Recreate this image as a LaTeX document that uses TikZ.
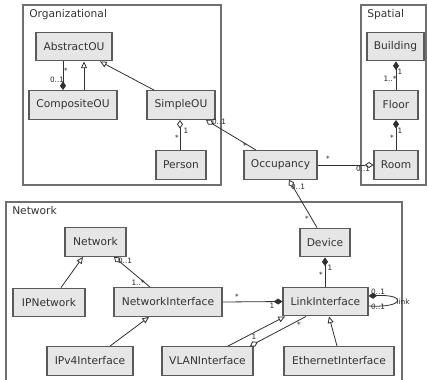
\documentclass[tikz,border=0pt]{standalone}
\usepackage{fontspec}
\setmainfont{DejaVu Sans}
\usetikzlibrary{arrows.meta}

\definecolor{boxfill}{HTML}{E6E6E6}
\definecolor{boxline}{HTML}{5A5A5A}
\definecolor{pkgline}{HTML}{707070}
\definecolor{connline}{HTML}{303030}

\begin{document}
\begin{tikzpicture}[x=0.75pt, y=-0.75pt]
\tikzset{ >=latex,
  cls/.style={draw=boxline, fill=boxfill, line width=0.9pt, inner sep=0pt,
              minimum height=21.5pt, font=\fontsize{8}{9}\selectfont, text=black!80},
  pkg/.style={draw=pkgline, line width=0.9pt},
  pkgname/.style={anchor=west, inner sep=0pt, font=\fontsize{8}{9}\selectfont, text=black!80},
  mult/.style={inner sep=0pt, font=\fontsize{5.5}{6}\selectfont, text=black!85},
  assoc/.style={draw=connline, line width=0.6pt},
  gen/.style={assoc, -{Triangle[open, length=5pt, width=4.5pt]}},
  agg/.style={assoc, {Diamond[open, length=6.5pt, width=4.5pt]}-},
  comp/.style={assoc, {Diamond[length=6.5pt, width=4.5pt]}-},
}

\clip (0,0) rectangle (427,379);

% packages
\draw [pkg] (23,5)  rectangle (221,185);
\draw [pkg] (361,5) rectangle (426,185);
\draw [pkg] (6,202) rectangle (402,395);

\node [pkgname] (orgName) at (29,15)  {Organizational};
\node [pkgname] (spaName) at (367,15) {Spatial};
\node [pkgname] (netName) at (12,211) {Network};

% classes
\node [cls, minimum width=57pt]   (AbstractOU)  at (74,46.5)  {AbstractOU};
\node [cls, minimum width=66pt]   (CompositeOU) at (73,105)   {CompositeOU};
\node [cls, minimum width=51pt]   (SimpleOU)    at (181,105)  {SimpleOU};
\node [cls, minimum width=37.5pt] (Person)      at (181,165)  {Person};

\node [cls, minimum width=42.75pt] (Building)  at (395.5,46.5) {Building};
\node [cls, minimum width=33pt]    (Floor)     at (396,105)    {Floor};
\node [cls, minimum width=33pt]    (Room)      at (396,165)    {Room};
\node [cls, minimum width=54.75pt] (Occupancy) at (280.5,165)  {Occupancy};

\node [cls, minimum width=45.75pt] (Network)           at (95.5,242)  {Network};
\node [cls, minimum width=54pt]    (IPNetwork)         at (49,302.5)  {IPNetwork};
\node [cls, minimum width=81pt]    (NetworkInterface)  at (168,302)   {NetworkInterface};
\node [cls, minimum width=64.5pt]  (IPv4Interface)     at (90,361)    {IPv4Interface};
\node [cls, minimum width=37.5pt]  (Device)            at (325,242.5) {Device};
\node [cls, minimum width=63.75pt] (LinkInterface)     at (325.5,301.5) {LinkInterface};
\node [cls, minimum width=68.25pt] (VLANInterface)     at (207.5,361) {VLANInterface};
\node [cls, minimum width=82.5pt]  (EthernetInterface) at (339,361)   {EthernetInterface};

% organizational
\draw [comp] (CompositeOU.north -| 63,0) -- (AbstractOU.south -| 63,0);
\draw [gen]  (CompositeOU.north -| 84,0) -- (AbstractOU.south -| 84,0);
\draw [gen]  (SimpleOU.north -| 154,0)   -- (AbstractOU.south -| 100,0);
\draw [agg]  (SimpleOU.south -| 180,0)   -- (Person.north -| 180,0);
\draw [agg]  (SimpleOU.south -| 206,0)   -- (Occupancy.north -| 256,0);

\node [mult] (m1) at (66,71)  {*};
\node [mult] (m2) at (57,80)  {0..1};
\node [mult] (m3) at (186,131) {1};
\node [mult] (m4) at (177,138) {*};
\node [mult] (m5) at (219,122) {0..1};
\node [mult] (m6) at (245,146) {*};

% spatial
\draw [agg]  (Room.west) -- (Occupancy.east);
\draw [comp] (Building.south -| 396,0) -- (Floor.north -| 396,0);
\draw [comp] (Floor.south -| 396,0)    -- (Room.north -| 396,0);

\node [mult] (m7)  at (328,159) {*};
\node [mult] (m8)  at (363,169) {0..1};
\node [mult] (m9)  at (400,72)  {1};
\node [mult] (m10) at (390,79)  {1..*};
\node [mult] (m11) at (400,131) {1};
\node [mult] (m12) at (392,138) {*};

% network
\draw [agg]  (Occupancy.south -| 289,0) -- (Device.north -| 317,0);
\draw [comp] (Device.south -| 325,0)    -- (LinkInterface.north -| 325,0);
\draw [comp] (LinkInterface.west)       -- (NetworkInterface.east);
\draw [agg]  (Network.south -| 114,0)   -- (NetworkInterface.north -| 150,0);
\draw [gen]  (IPNetwork.north -| 61,0)  -- (Network.south -| 83,0);
\draw [gen]  (IPv4Interface.north -| 110,0) -- (NetworkInterface.south -| 149,0);
\draw [gen]  (VLANInterface.north -| 228,0) -- (LinkInterface.south -| 285,0);
\draw [agg]  (VLANInterface.north -| 250,0) -- (LinkInterface.south -| 306,0);
\draw [gen]  (EthernetInterface.north -| 337,0) -- (LinkInterface.south -| 329,0);

\coordinate (loopIn)  at (LinkInterface.east |- 0,296);
\coordinate (loopOut) at (LinkInterface.east |- 0,306);
\draw [comp] (loopIn) .. controls (406,294) and (406,308) .. (loopOut);

\node [mult] (m13) at (298,187) {0..1};
\node [mult] (m14) at (307,219) {*};
\node [mult] (m15) at (330,268) {1};
\node [mult] (m16) at (321,275) {*};
\node [mult] (m17) at (237,297) {*};
\node [mult] (m18) at (272,306) {1};
\node [mult] (m19) at (125,261) {0..1};
\node [mult] (m20) at (138,283) {1..*};
\node [mult] (m21) at (299,325) {*};
\node [mult] (m22) at (254,337) {1};
\node [mult] (m23) at (378,292) {0..1};
\node [mult] (m24) at (378,307) {0..1};
\node [mult] (linkName) at (403,302) {link};
\end{tikzpicture}
\end{document}
